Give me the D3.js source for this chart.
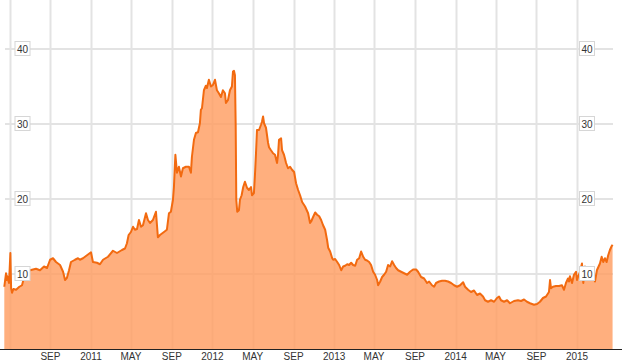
<!DOCTYPE html>
<html>
<head>
<meta charset="utf-8">
<script src="https://cdn.jsdelivr.net/npm/d3@7"></script>
<style>
  body { margin: 0; background: #fff; }
  svg { display: block; }
</style>
</head>
<body>
<div id="chart"></div>
<script>
// decimal year of each sample
var years = [
  2010.286, 2010.300, 2010.306, 2010.311, 2010.325, 2010.336, 2010.342, 2010.350, 2010.361, 2010.383,
  2010.410, 2010.432, 2010.443, 2010.457, 2010.498, 2010.547, 2010.580, 2010.613, 2010.638, 2010.663,
  2010.687, 2010.712, 2010.745, 2010.770, 2010.786, 2010.802, 2010.819, 2010.835, 2010.868, 2010.893,
  2010.909, 2010.934, 2010.967, 2011.000, 2011.016, 2011.049, 2011.074, 2011.099, 2011.140, 2011.181,
  2011.214, 2011.255, 2011.280, 2011.296, 2011.310, 2011.329, 2011.346, 2011.362, 2011.379, 2011.395,
  2011.412, 2011.428, 2011.453, 2011.469, 2011.486, 2011.510, 2011.535, 2011.551, 2011.568, 2011.601,
  2011.625, 2011.642, 2011.658, 2011.675, 2011.683, 2011.695, 2011.708, 2011.724, 2011.741, 2011.757,
  2011.782, 2011.807, 2011.823, 2011.831, 2011.848, 2011.864, 2011.881, 2011.897, 2011.905, 2011.914,
  2011.930, 2011.946, 2011.955, 2011.971, 2011.988, 2012.004, 2012.021, 2012.037, 2012.053, 2012.070,
  2012.086, 2012.103, 2012.111, 2012.128, 2012.144, 2012.160, 2012.169, 2012.177, 2012.185, 2012.191,
  2012.196, 2012.204, 2012.218, 2012.226, 2012.240, 2012.253, 2012.267, 2012.284, 2012.300, 2012.317,
  2012.325, 2012.341, 2012.350, 2012.358, 2012.366, 2012.383, 2012.399, 2012.407, 2012.416, 2012.424,
  2012.440, 2012.457, 2012.465, 2012.481, 2012.498, 2012.514, 2012.531, 2012.539, 2012.547, 2012.564,
  2012.572, 2012.588, 2012.605, 2012.621, 2012.638, 2012.654, 2012.671, 2012.687, 2012.704, 2012.720,
  2012.737, 2012.761, 2012.786, 2012.802, 2012.811, 2012.827, 2012.844, 2012.860, 2012.877, 2012.893,
  2012.909, 2012.926, 2012.942, 2012.951, 2012.967, 2012.984, 2012.992, 2013.008, 2013.025, 2013.041,
  2013.058, 2013.074, 2013.090, 2013.107, 2013.123, 2013.140, 2013.156, 2013.173, 2013.189, 2013.206,
  2013.222, 2013.239, 2013.255, 2013.271, 2013.288, 2013.304, 2013.321, 2013.337, 2013.354, 2013.362,
  2013.379, 2013.395, 2013.411, 2013.428, 2013.444, 2013.461, 2013.477, 2013.494, 2013.510, 2013.527,
  2013.551, 2013.576, 2013.601, 2013.625, 2013.650, 2013.675, 2013.691, 2013.716, 2013.741, 2013.765,
  2013.782, 2013.806, 2013.823, 2013.839, 2013.864, 2013.889, 2013.913, 2013.938, 2013.963, 2013.988,
  2014.012, 2014.037, 2014.062, 2014.078, 2014.103, 2014.127, 2014.152, 2014.177, 2014.201, 2014.226,
  2014.243, 2014.267, 2014.292, 2014.317, 2014.341, 2014.358, 2014.374, 2014.399, 2014.424, 2014.448,
  2014.481, 2014.514, 2014.539, 2014.564, 2014.588, 2014.613, 2014.646, 2014.671, 2014.695, 2014.720,
  2014.745, 2014.769, 2014.778, 2014.786, 2014.802, 2014.827, 2014.852, 2014.876, 2014.893, 2014.909,
  2014.926, 2014.934, 2014.942, 2014.959, 2014.975, 2014.992, 2015.000, 2015.008, 2015.025, 2015.041,
  2015.052, 2015.066, 2015.090, 2015.115, 2015.131, 2015.148, 2015.164, 2015.189, 2015.203, 2015.216,
  2015.230, 2015.244, 2015.257, 2015.271, 2015.285, 2015.293
];
var values = [
  8.3, 10.1, 9.2, 9.7, 8.8, 12.8, 8.1, 7.5, 8.0, 7.9,
  8.3, 8.5, 9.2, 10.4, 10.5, 10.7, 10.5, 11.0, 10.8, 11.9,
  12.1, 11.6, 11.2, 10.3, 9.2, 9.5, 10.5, 11.6, 11.9, 12.1,
  11.9, 12.1, 12.5, 12.9, 11.6, 11.5, 11.3, 11.9, 12.3, 13.1,
  12.8, 13.2, 13.4, 14.1, 15.2, 15.6, 16.3, 15.9, 16.0, 17.2,
  16.3, 16.5, 18.1, 17.2, 16.8, 17.2, 18.3, 14.9, 15.2, 15.6,
  15.9, 18.1, 18.3, 19.9, 21.6, 25.9, 23.5, 24.3, 23.0, 24.1,
  24.3, 24.3, 23.5, 25.6, 27.9, 28.8, 28.9, 30.1, 31.9, 32.1,
  34.5, 35.1, 34.8, 35.9, 35.0, 35.2, 35.9, 34.5, 34.1, 33.6,
  34.5, 34.1, 32.8, 33.2, 34.5, 35.0, 37.0, 37.1, 36.5, 30.0,
  19.9, 18.3, 18.5, 19.9, 20.5, 21.6, 22.3, 21.5, 21.2, 21.6,
  20.5, 20.8, 23.4, 26.1, 29.2, 29.2, 29.9, 30.3, 31.0, 30.1,
  29.5, 27.5, 26.9, 26.5, 26.1, 25.9, 24.8, 25.9, 27.9, 28.1,
  26.5, 25.9, 24.8, 24.1, 24.3, 23.9, 23.6, 22.1, 21.2, 20.5,
  19.6, 19.0, 18.1, 16.8, 17.0, 17.6, 18.2, 17.9, 17.7, 17.2,
  16.5, 15.9, 14.5, 13.5, 13.0, 12.1, 11.9, 12.0, 11.6, 11.2,
  10.5, 11.0, 11.1, 11.3, 11.2, 11.5, 11.2, 11.1, 11.9, 12.1,
  13.0, 12.3, 11.9, 11.8, 11.6, 11.2, 10.3, 9.9, 9.2, 8.5,
  9.0, 9.6, 9.9, 10.3, 11.2, 11.0, 11.7, 11.2, 10.8, 10.5,
  10.3, 10.1, 9.9, 10.3, 10.6, 10.6, 10.3, 9.6, 9.4, 8.8,
  9.0, 8.5, 8.3, 8.8, 9.0, 9.1, 9.1, 9.0, 8.8, 8.5,
  8.3, 8.5, 8.9, 8.3, 7.9, 7.6, 7.8, 7.2, 7.4, 7.0,
  6.5, 6.3, 6.5, 6.3, 6.8, 7.0, 6.5, 6.3, 6.5, 6.1,
  6.4, 6.5, 6.4, 6.6, 6.3, 6.1, 5.9, 6.0, 6.3, 6.8,
  7.0, 7.6, 9.2, 8.1, 8.3, 8.4, 8.4, 8.5, 7.9, 8.8,
  9.4, 9.0, 9.7, 8.8, 9.9, 10.3, 9.2, 9.6, 10.3, 11.4,
  8.8, 11.0, 10.3, 10.0, 10.4, 9.0, 10.5, 11.4, 12.3, 11.6,
  12.1, 11.6, 12.5, 13.2, 13.7, 13.9
];
var y_ticks = [10, 20, 30, 40];
var month_names = ["JAN", "FEB", "MAR", "APR", "MAY", "JUN", "JUL", "AUG", "SEP", "OCT", "NOV", "DEC"];

var width = 626, height = 364;

// decimal year -> Date
function to_date(t) {
    var yr = Math.floor(t);
    var start = new Date(yr, 0, 1).getTime();
    var end = new Date(yr + 1, 0, 1).getTime();
    return new Date(start + (t - yr) * (end - start));
}

var data = years.map(function(t, i) { return {date: to_date(t), value: values[i]}; });

var svg = d3.select("#chart").append("svg")
    .attr("width", width)
    .attr("height", height);

var x = d3.scaleTime()
    .domain([new Date(2010, 4, 1), new Date(2015, 0, 1)])
    .range([9.5, 577]);

var y = d3.scaleLinear()
    .domain([0, 40])
    .range([349, 49]);

var plot_left = 5, plot_right = 613;

// vertical grid every 4 months
var month_ticks = d3.timeMonth.every(4).range(new Date(2010, 4, 1), new Date(2015, 3, 1));
svg.append("g").selectAll("line")
    .data(month_ticks)
    .enter().append("line")
    .attr("x1", d => Math.round(x(d)) + 0.5)
    .attr("x2", d => Math.round(x(d)) + 0.5)
    .attr("y1", 0)
    .attr("y2", 349)
    .attr("stroke", "#e3e3e3")
    .attr("stroke-width", 2);

// horizontal grid
svg.append("g").selectAll("line")
    .data(y_ticks)
    .enter().append("line")
    .attr("x1", plot_left)
    .attr("x2", plot_right)
    .attr("y1", d => y(d))
    .attr("y2", d => y(d))
    .attr("stroke", "#e3e3e3")
    .attr("stroke-width", 2);

// area + line
var area = d3.area()
    .x(d => x(d.date))
    .y0(y(0))
    .y1(d => y(d.value));

var line = d3.line()
    .x(d => x(d.date))
    .y(d => y(d.value));

svg.append("path")
    .datum(data)
    .attr("d", area)
    .attr("fill", "#ff9d62")
    .attr("fill-opacity", 0.82);

svg.append("path")
    .datum(data)
    .attr("d", line)
    .attr("fill", "none")
    .attr("stroke", "#f26a10")
    .attr("stroke-width", 2)
    .attr("stroke-linejoin", "round");

// bottom axis line
svg.append("line")
    .attr("x1", 0).attr("x2", 622)
    .attr("y1", 349.5).attr("y2", 349.5)
    .attr("stroke", "#222")
    .attr("stroke-width", 1);

// x labels (skip the first May, it has no label)
svg.append("g").selectAll("text")
    .data(month_ticks.slice(1))
    .enter().append("text")
    .attr("x", d => x(d))
    .attr("y", 360)
    .attr("text-anchor", "middle")
    .attr("font-family", "Liberation Sans, Arial, sans-serif")
    .attr("font-size", 10)
    .attr("fill", "#333")
    .text(d => d.getMonth() === 0 ? d.getFullYear() : month_names[d.getMonth()]);

// boxed y labels on both sides
function y_labels(cx) {
    var g = svg.append("g").selectAll("g")
        .data(y_ticks)
        .enter().append("g")
        .attr("transform", d => "translate(" + cx + "," + y(d) + ")");
    g.append("rect")
        .attr("x", -7.5).attr("y", -7.5)
        .attr("width", 15).attr("height", 14)
        .attr("fill", "#fff")
        .attr("stroke", "#d6d6d6");
    g.append("text")
        .attr("y", 3.5)
        .attr("text-anchor", "middle")
        .attr("font-family", "Liberation Sans, Arial, sans-serif")
        .attr("font-size", 10)
        .attr("fill", "#333")
        .text(d => d);
}
y_labels(22.5);
y_labels(587);
</script>
</body>
</html>
